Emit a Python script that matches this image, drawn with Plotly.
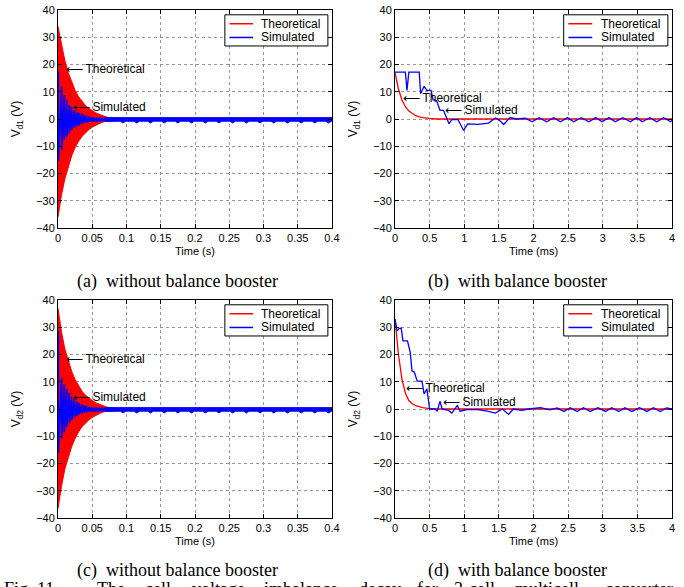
import plotly.graph_objects as go

# ---------------- data ----------------
# (a) Vd1 without balance booster -- theoretical envelope (filled red)
ta_env = [0, 0.005, 0.01, 0.015, 0.02, 0.025, 0.03, 0.035, 0.04, 0.045, 0.05, 0.055, 0.06, 0.065, 0.07, 0.075, 0.08, 0.09, 0.4]
a_up = [34, 27, 21.5, 17, 13.5, 10.5, 8.2, 6.4, 5, 3.9, 3, 2.3, 1.7, 1.2, 0.8, 0.5, 0.3, 0.1, 0]
a_lo = [-36, -28, -22, -17.5, -13.5, -10.5, -8.2, -6.4, -5, -3.9, -3, -2.3, -1.7, -1.2, -0.8, -0.5, -0.3, -0.1, 0]
# (a) simulated oscillation peaks
ta_sp = [0.0005, 0.0054, 0.0092, 0.0127, 0.0165, 0.020, 0.0238, 0.0273, 0.0307, 0.0346, 0.0384, 0.0419, 0.0457, 0.0492, 0.053, 0.057, 0.061, 0.065, 0.069]
a_sp_hi = [17.4, 11.9, 8.8, 7.0, 5.1, 4.5, 3.3, 2.7, 2.3, 2.0, 1.6, 1.2, 0.9, 0.7, 0.6, 0.5, 0.5, 0.5, 0.5]
a_sp_lo = [-15.3, -11.4, -7.7, -6.5, -5.3, -4.0, -3.3, -2.8, -2.3, -1.9, -1.5, -1.3, -1.1, -1.0, -1.0, -1.0, -1.0, -0.9, -0.9]
# (a) simulated steady-state ripple band
ta_band = [0.07, 0.091, 0.095, 0.099, 0.111, 0.115, 0.119, 0.131, 0.135, 0.139, 0.151, 0.155, 0.159,
           0.171, 0.175, 0.179, 0.191, 0.195, 0.199, 0.211, 0.215, 0.219, 0.231, 0.235, 0.239,
           0.251, 0.255, 0.259, 0.271, 0.275, 0.279, 0.291, 0.295, 0.299, 0.311, 0.315, 0.319,
           0.331, 0.335, 0.339, 0.351, 0.355, 0.359, 0.371, 0.375, 0.379, 0.391, 0.395, 0.399, 0.4]
a_band_lo = [-0.9, -0.8, -1.45, -0.8, -0.8, -1.45, -0.8, -0.8, -1.45, -0.8, -0.8, -1.45, -0.8,
             -0.8, -1.45, -0.8, -0.8, -1.45, -0.8, -0.8, -1.45, -0.8, -0.8, -1.45, -0.8,
             -0.8, -1.45, -0.8, -0.8, -1.45, -0.8, -0.8, -1.45, -0.8, -0.8, -1.45, -0.8,
             -0.8, -1.45, -0.8, -0.8, -1.45, -0.8, -0.8, -1.45, -0.8, -0.8, -1.45, -0.8, -0.8]
ta_band_top = [0.07, 0.4]
a_band_hi = [0.5, 0.5]

# (b) Vd1 with balance booster (time in ms)
tb_th = [0, 0.05, 0.1, 0.15, 0.2, 0.25, 0.3, 0.35, 0.4, 0.5, 0.6, 4.0]
vb_th = [17, 11, 7, 4.5, 2.9, 1.9, 1.2, 0.8, 0.5, 0.2, 0, 0]
tb_sim = [0, 0.15, 0.173, 0.2, 0.35, 0.37, 0.42, 0.46, 0.52, 0.55, 0.6, 0.65, 0.7, 0.78, 0.82, 0.91,
          0.99, 1.05, 1.2, 1.35, 1.45, 1.5, 1.57, 1.66, 1.75, 1.88, 1.98, 2.08, 2.19, 2.29, 2.39,
          2.49, 2.58, 2.69, 2.8, 2.9, 2.99, 3.09, 3.18, 3.29, 3.4, 3.49, 3.57, 3.68, 3.78, 3.88, 3.98, 4.0]
vb_sim = [17.2, 17.2, 10.5, 17.2, 17.2, 9.3, 12, 10.5, 10.5, 7, 6.8, 3.2, 3.2, -1.7, -0.2, -0.2,
          -4.2, -1.8, -2, -1.5, 0.4, -0.3, -2, 0.6, 0, 0.3, -1.0, 0.5, -1.0, 0.5, -1.0,
          0.5, -1.0, 0.5, -1.0, 0.5, -1.0, 0.5, -1.0, 0.5, -1.0, 0.5, -1.0, 0.5, -1.0, 0.5, -1.0, -0.5]

# (c) Vd2 without balance booster
tc_env = [0, 0.005, 0.01, 0.015, 0.02, 0.025, 0.03, 0.035, 0.04, 0.045, 0.05, 0.055, 0.06, 0.065, 0.07, 0.075, 0.08, 0.09, 0.4]
c_up = [37, 28.5, 22, 17.5, 13.8, 10.8, 8.4, 6.5, 5.1, 4, 3.1, 2.3, 1.7, 1.2, 0.8, 0.5, 0.3, 0.1, 0]
c_lo = [-36.5, -28.5, -22, -17.5, -13.8, -10.8, -8.4, -6.5, -5.1, -4, -3.1, -2.3, -1.7, -1.2, -0.8, -0.5, -0.3, -0.1, 0]
tc_sp = [0.0005, 0.0054, 0.0092, 0.0127, 0.0165, 0.020, 0.0238, 0.0273, 0.0307, 0.0346, 0.0384, 0.0419, 0.0457, 0.0492, 0.053, 0.057, 0.061, 0.065, 0.069]
c_sp_hi = [28.4, 11.5, 9.0, 7.5, 6.0, 4.5, 3.6, 2.8, 2.2, 1.8, 1.4, 1.1, 0.8, 0.6, 0.5, 0.5, 0.5, 0.5, 0.5]
c_sp_lo = [-16, -11, -8.5, -6.5, -5.2, -4.2, -3.3, -2.6, -2.1, -1.7, -1.4, -1.2, -1.0, -1.0, -1.0, -1.0, -0.9, -0.9, -0.9]
tc_band = ta_band
c_band_lo = a_band_lo
tc_band_top = [0.07, 0.4]
c_band_hi = [0.5, 0.5]

# (d) Vd2 with balance booster (time in ms)
td_th = [0, 0.05, 0.1, 0.15, 0.2, 0.25, 0.3, 0.35, 0.4, 0.5, 0.6, 4.0]
vd_th = [33, 20, 11, 5.8, 3.1, 1.9, 1.2, 0.8, 0.5, 0.15, 0, 0]
td_sim = [0, 0.03, 0.06, 0.09, 0.115, 0.18, 0.22, 0.245, 0.28, 0.32, 0.39, 0.42, 0.46, 0.5, 0.58,
          0.61, 0.65, 0.68, 0.77, 0.82, 0.9, 0.94, 1.04, 1.2, 1.33, 1.45, 1.55, 1.64, 1.71, 1.83,
          1.93, 2.0, 2.1, 2.24, 2.34, 2.44, 2.53, 2.63, 2.72, 2.82, 2.93, 3.04, 3.13, 3.23, 3.32,
          3.42, 3.53, 3.64, 3.73, 3.83, 3.92, 4.0]
vd_sim = [33, 28.7, 29.5, 29.7, 25, 25, 20.8, 14, 13.5, 10.2, 10.2, 5.5, 7.4, 0, 0,
          -0.8, 2.9, 0, -0.5, -1.5, 1.3, -0.8, -0.2, -0.2, -0.8, -1.5, 0, -2, 0, -0.5,
          0, 0.3, 0.5, -0.3, 0.4, -0.9, 0.5, -0.9, 0.5, -0.9, 0.5, -0.9, 0.5, -0.9, 0.5,
          -0.9, 0.5, -0.9, 0.5, -0.9, 0.4, 0]

y_ticks = [-40, -30, -20, -10, 0, 10, 20, 30, 40]
xs_ticks = [0, 0.05, 0.1, 0.15, 0.2, 0.25, 0.3, 0.35, 0.4]
xs_labels = ["0", "0.05", "0.1", "0.15", "0.2", "0.25", "0.3", "0.35", "0.4"]
xms_ticks = [0, 0.5, 1, 1.5, 2, 2.5, 3, 3.5, 4]
xms_labels = ["0", "0.5", "1", "1.5", "2", "2.5", "3", "3.5", "4"]
captions = ["(a)\u00a0 without balance booster", "(b)\u00a0 with balance booster",
            "(c)\u00a0 without balance booster", "(d)\u00a0 with balance booster"]
ytitles = ["V<sub>d1</sub> (V)", "V<sub>d1</sub> (V)", "V<sub>d2</sub> (V)", "V<sub>d2</sub> (V)"]
xtitles = ["Time (s)", "Time (ms)", "Time (s)", "Time (ms)"]
legend_names = ["Theoretical", "Simulated"]
fig_caption_words = ["Fig. 11.", "The", "cell", "voltage", "imbalance", "decay", "for", "3-cell", "multicell", "converter"]

# ---------------- figure ----------------
W, H = 684, 587
RED = "#ff0000"
BLUE = "#0000ff"
SANS = "Liberation Sans, Arial, sans-serif"
SERIF = "Liberation Serif, Times New Roman, serif"

fig = go.Figure()


def band(t, up, lo):
    return list(t) + list(t)[::-1], list(up) + list(lo)[::-1]


def spikes(t, hi, lo):
    xs, ys = [], []
    for ti, h, l in zip(t, hi, lo):
        xs += [ti, ti]
        ys += [h, l]
    return xs, ys


def band2(t_top, hi, t_bot, lo):
    return list(t_top) + list(t_bot)[::-1], list(hi) + list(lo)[::-1]


# (a)
bx, by = band(ta_env, a_up, a_lo)
fig.add_trace(go.Scatter(x=bx, y=by, fill="toself", fillcolor=RED, mode="lines",
                         line=dict(color=RED, width=1), name="Theoretical", xaxis="x", yaxis="y"))
sx, sy = spikes(ta_sp, a_sp_hi, a_sp_lo)
fig.add_trace(go.Scatter(x=sx, y=sy, mode="lines", line=dict(color=BLUE, width=1.7),
                         name="Simulated", xaxis="x", yaxis="y"))
qx, qy = band2(ta_band_top, a_band_hi, ta_band, a_band_lo)
fig.add_trace(go.Scatter(x=qx, y=qy, fill="toself", fillcolor=BLUE, mode="lines",
                         line=dict(color=BLUE, width=1), name="Simulated", xaxis="x", yaxis="y"))

# (b)
fig.add_trace(go.Scatter(x=tb_th, y=vb_th, mode="lines", line=dict(color=RED, width=1.3),
                         name="Theoretical", xaxis="x2", yaxis="y2"))
fig.add_trace(go.Scatter(x=tb_sim, y=vb_sim, mode="lines", line=dict(color=BLUE, width=1.3),
                         name="Simulated", xaxis="x2", yaxis="y2"))

# (c)
bx, by = band(tc_env, c_up, c_lo)
fig.add_trace(go.Scatter(x=bx, y=by, fill="toself", fillcolor=RED, mode="lines",
                         line=dict(color=RED, width=1), name="Theoretical", xaxis="x3", yaxis="y3"))
sx, sy = spikes(tc_sp, c_sp_hi, c_sp_lo)
fig.add_trace(go.Scatter(x=sx, y=sy, mode="lines", line=dict(color=BLUE, width=1.7),
                         name="Simulated", xaxis="x3", yaxis="y3"))
qx, qy = band2(tc_band_top, c_band_hi, tc_band, c_band_lo)
fig.add_trace(go.Scatter(x=qx, y=qy, fill="toself", fillcolor=BLUE, mode="lines",
                         line=dict(color=BLUE, width=1), name="Simulated", xaxis="x3", yaxis="y3"))

# (d)
fig.add_trace(go.Scatter(x=td_th, y=vd_th, mode="lines", line=dict(color=RED, width=1.3),
                         name="Theoretical", xaxis="x4", yaxis="y4"))
fig.add_trace(go.Scatter(x=td_sim, y=vd_sim, mode="lines", line=dict(color=BLUE, width=1.3),
                         name="Simulated", xaxis="x4", yaxis="y4"))

L = [58 / W, 332 / W]
R = [395 / W, 672 / W]
T = [1 - 228 / H, 1 - 10 / H]
B = [1 - 518 / H, 1 - 300 / H]


def xax(dom, anchor, ticks, labels, rng):
    return dict(domain=dom, anchor=anchor, range=rng, tickvals=ticks, ticktext=labels,
                showline=True, linecolor="black", linewidth=1, mirror="ticks",
                ticks="inside", ticklen=4, tickcolor="black", automargin=False,
                showgrid=True, gridcolor="rgb(150,150,150)", griddash="dot", gridwidth=1,
                zeroline=False, tickfont=dict(family=SANS, size=11, color="black"))


def yax(dom, anchor, title):
    return dict(domain=dom, anchor=anchor, range=[-40, 40], tickvals=y_ticks,
                showline=True, linecolor="black", linewidth=1, mirror="ticks",
                ticks="inside", ticklen=4, tickcolor="black", automargin=False,
                showgrid=True, gridcolor="rgb(150,150,150)", griddash="dot", gridwidth=1,
                zeroline=False, tickfont=dict(family=SANS, size=11, color="black"),
                title=dict(text=title, font=dict(family=SANS, size=12, color="black"), standoff=12))


fig.update_layout(
    width=W, height=H, margin=dict(l=0, r=0, t=0, b=0, autoexpand=False),
    paper_bgcolor="white", plot_bgcolor="white", showlegend=False,
    xaxis=xax(L, "y", xs_ticks, xs_labels, [0, 0.4]),
    yaxis=yax(T, "x", ytitles[0]),
    xaxis2=xax(R, "y2", xms_ticks, xms_labels, [0, 4]),
    yaxis2=yax(T, "x2", ytitles[1]),
    xaxis3=xax(L, "y3", xs_ticks, xs_labels, [0, 0.4]),
    yaxis3=yax(B, "x3", ytitles[2]),
    xaxis4=xax(R, "y4", xms_ticks, xms_labels, [0, 4]),
    yaxis4=yax(B, "x4", ytitles[3]),
)

shapes = []
annotations = []
axes = [("x", "y"), ("x2", "y2"), ("x3", "y3"), ("x4", "y4")]
for xa, ya in axes:
    xd, yd = xa + " domain", ya + " domain"
    shapes.append(dict(type="rect", xref=xd, yref=yd, x0=0.609, x1=0.985, y0=0.835, y1=0.978,
                       line=dict(color="black", width=1), fillcolor="white", layer="above"))
    shapes.append(dict(type="line", xref=xd, yref=yd, x0=0.626, x1=0.712, y0=0.937, y1=0.937,
                       line=dict(color=RED, width=1.5), layer="above"))
    shapes.append(dict(type="line", xref=xd, yref=yd, x0=0.626, x1=0.712, y0=0.874, y1=0.874,
                       line=dict(color=BLUE, width=1.5), layer="above"))
    for name, yy in zip(legend_names, [0.937, 0.874]):
        annotations.append(dict(xref=xd, yref=yd, x=0.735, y=yy, text=name, showarrow=False,
                                xanchor="left", yanchor="middle",
                                font=dict(family=SANS, size=12, color="black")))

# x-axis titles (placed just under the tick labels)
xt_pos = [(195, 251), (533, 251), (195, 541), (533, 541)]
for txt, (px, py) in zip(xtitles, xt_pos):
    annotations.append(dict(xref="paper", yref="paper", x=px / W, y=1 - py / H, text=txt,
                            showarrow=False, xanchor="center", yanchor="middle",
                            font=dict(family=SANS, size=11, color="black")))

# in-plot labels with arrows
label_pos = [
    ("x", "y", 0.0085, 18.5, 0.0185, 4.5),
    ("x2", "y2", 0.09, 7.8, 0.7, 3.3),
    ("x3", "y3", 0.0085, 18.3, 0.0185, 4.4),
    ("x4", "y4", 0.13, 7.6, 0.66, 2.7),
]
for xa, ya, x1, y1, x2, y2 in label_pos:
    annotations.append(dict(xref=xa, yref=ya, x=x1, y=y1, text="\u27f5\u2009Theoretical", showarrow=False,
                            xanchor="left", yanchor="middle",
                            font=dict(family=SANS, size=12, color="black")))
    annotations.append(dict(xref=xa, yref=ya, x=x2, y=y2, text="\u27f5\u2009Simulated", showarrow=False,
                            xanchor="left", yanchor="middle",
                            font=dict(family=SANS, size=12, color="black")))

cap_pos = [(177, 281), (517, 281), (177, 570), (517, 570)]
for cap, (cx, cy) in zip(captions, cap_pos):
    annotations.append(dict(xref="paper", yref="paper", x=cx / W, y=1 - cy / H, text=cap,
                            showarrow=False, xanchor="center", yanchor="middle",
                            font=dict(family=SERIF, size=18, color="black")))

# figure caption line (cut by the bottom edge, as in the source)
word_x = [2, 95, 143, 190, 262, 357, 415, 452, 513, 603]
for word, wx in zip(fig_caption_words, word_x):
    annotations.append(dict(xref="paper", yref="paper", x=wx / W, y=1 - 577 / H, text=word,
                            showarrow=False, xanchor="left", yanchor="top",
                            font=dict(family=SERIF, size=18, color="black")))

fig.update_layout(shapes=shapes, annotations=annotations)
fig.write_html("out.html", config={"displayModeBar": False},
               post_script="document.body.style.margin='0px';document.body.style.padding='0px';")
